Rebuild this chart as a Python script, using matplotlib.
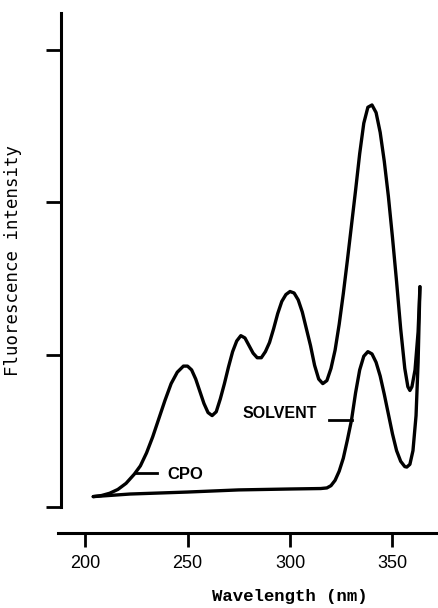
import numpy as np
import matplotlib
matplotlib.use("Agg")
import matplotlib.pyplot as plt

# wavelength (nm) / intensity (arbitrary units, y ticks at 0..3)
cpo_wl = [204.0, 208, 212, 216, 220, 224, 227, 230, 233, 236,
          239, 242, 245, 248, 250, 252, 254, 256, 258, 260,
          262, 264, 266, 268, 270, 272, 274, 276, 278, 280,
          282, 284, 286, 288, 290, 292, 294, 296, 298, 300,
          302, 304, 306, 308, 310, 312, 314, 316, 318, 320,
          322, 324, 326, 328, 330, 332, 334, 336, 338, 340,
          342, 344, 346, 348, 350, 352, 354, 356, 357.5, 358.5,
          359.5, 361, 362.5, 363.4]
cpo_int = [0.068, 0.075, 0.090, 0.115, 0.155, 0.215, 0.27, 0.355, 0.46, 0.58,
           0.70, 0.81, 0.885, 0.925, 0.925, 0.900, 0.84, 0.76, 0.68, 0.62,
           0.600, 0.625, 0.71, 0.81, 0.92, 1.02, 1.09, 1.125, 1.11, 1.06,
           1.01, 0.98, 0.98, 1.02, 1.08, 1.17, 1.27, 1.35, 1.395, 1.415,
           1.405, 1.36, 1.28, 1.17, 1.06, 0.93, 0.84, 0.81, 0.83, 0.91,
           1.03, 1.20, 1.40, 1.62, 1.85, 2.08, 2.32, 2.52, 2.625, 2.64,
           2.59, 2.46, 2.27, 2.04, 1.77, 1.48, 1.17, 0.91, 0.79, 0.765,
           0.79, 0.90, 1.15, 1.446]

solvent_wl = [204.0, 222, 250, 275, 300, 315, 318, 320, 322, 324,
              326, 328, 330, 332, 334, 336, 338, 340, 342, 344,
              346, 348, 350, 352, 354, 356, 357, 358.5, 360, 361.5,
              362.5, 363.4]
solvent_int = [0.068, 0.085, 0.098, 0.112, 0.118, 0.121, 0.125, 0.14, 0.175, 0.235,
               0.32, 0.44, 0.57, 0.75, 0.90, 0.99, 1.02, 1.005, 0.95, 0.86,
               0.74, 0.61, 0.48, 0.37, 0.30, 0.265, 0.262, 0.28, 0.37, 0.60,
               0.95, 1.446]

xticks = [200, 250, 300, 350]
yticks = [0, 1, 2, 3]

W, H = 439, 608


def main():
    fig = plt.figure(figsize=(W / 100, H / 100), dpi=100)
    # axes box: x 58..439 px, y 13..533 px
    ax = fig.add_axes([58 / W, (H - 533) / H, 381 / W, 520 / H])

    style = dict(color="black", lw=2.4, solid_capstyle="round", solid_joinstyle="round")
    ax.plot(cpo_wl, cpo_int, **style)
    ax.plot(solvent_wl, solvent_int, **style)

    ax.set_xlim(186.8, 372.7)
    ax.set_ylim(-0.171, 3.244)

    # curve labels with short leader lines
    ax.plot([224.4, 235.1], [0.221, 0.221], color="black", lw=2)
    ax.text(240.0, 0.21, "CPO", fontsize=12, fontweight="bold",
            family="Liberation Sans", ha="left", va="center")
    ax.plot([319.0, 330.2], [0.571, 0.571], color="black", lw=2)
    ax.text(313.2, 0.617, "SOLVENT", fontsize=11.5, fontweight="bold",
            family="Liberation Sans", ha="right", va="center")

    for s in ["top", "right"]:
        ax.spines[s].set_visible(False)
    ax.spines["left"].set_position(("data", 188.3))
    ax.spines["left"].set_bounds(0, 3.244)
    ax.spines["left"].set_linewidth(2.2)
    ax.spines["bottom"].set_linewidth(2.2)

    ax.set_yticks(yticks)
    ax.set_yticklabels([])
    ax.tick_params(axis="y", direction="out", length=11, width=2)
    ax.set_xticks(xticks)
    ax.set_xticklabels([str(t) for t in xticks], fontsize=13,
                       family="Liberation Sans")
    ax.tick_params(axis="x", direction="out", length=10, width=2, pad=6)

    ax.set_xlabel("Wavelength (nm)", fontsize=12.5, fontweight="bold",
                  family="Liberation Mono")
    ax.xaxis.set_label_coords(0.609, -0.108)
    ax.set_ylabel("Fluorescence intensity", fontsize=12.5,
                  family="DejaVu Sans Mono")
    ax.yaxis.set_label_coords(-0.0945, 0.525)

    fig.savefig("out.png", dpi=100)


if __name__ == "__main__":
    main()
